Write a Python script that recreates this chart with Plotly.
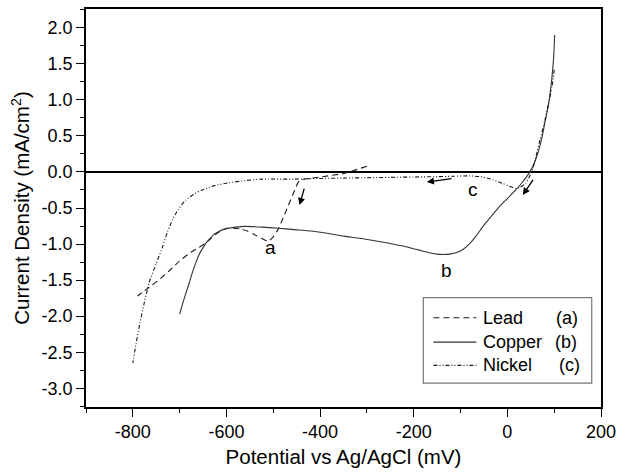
import plotly.graph_objects as go

# ---------------- data ----------------
lead_x = [-300, -349, -400, -444, -454, -463, -472, -481, -490, -500, -511, -525, -540, -555, -570, -585, -600, -620, -645, -675, -701, -722, -743, -765, -790]
lead_y = [0.08, -0.02, -0.07, -0.12, -0.25, -0.39, -0.53, -0.67, -0.80, -0.90, -0.96, -0.92, -0.87, -0.82, -0.79, -0.78, -0.78, -0.85, -0.99, -1.11, -1.24, -1.37, -1.49, -1.60, -1.72]

copper_x = [101, 99, 95, 88, 80, 74, 66, 57, 46, 30, 18, 0, -17, -35, -52, -67, -80, -95, -110, -123, -137, -151, -180, -208, -245, -278, -315, -349, -385, -419, -455, -490, -525, -560, -580, -595, -607, -617, -627, -635, -643, -650, -658, -665, -673, -680, -690, -700]
copper_y = [1.90, 1.60, 1.30, 0.94, 0.68, 0.48, 0.28, 0.115, -0.02, -0.16, -0.25, -0.37, -0.48, -0.62, -0.755, -0.89, -0.99, -1.075, -1.12, -1.14, -1.145, -1.14, -1.10, -1.05, -1.00, -0.96, -0.92, -0.89, -0.85, -0.82, -0.80, -0.78, -0.765, -0.755, -0.765, -0.78, -0.80, -0.83, -0.87, -0.92, -0.98, -1.05, -1.14, -1.25, -1.40, -1.55, -1.75, -1.97]

nickel_x = [100, 98, 95, 88, 80, 70, 59, 53, 46, 39, 28, 18, 5, -10, -30, -52, -80, -116, -150, -200, -250, -300, -350, -400, -454, -525, -560, -595, -625, -652, -670, -687, -702, -715, -726, -736, -750, -765, -775, -785, -793, -800]
nickel_y = [1.42, 1.30, 1.17, 0.95, 0.71, 0.45, 0.16, 0.02, -0.08, -0.16, -0.21, -0.23, -0.20, -0.16, -0.11, -0.07, -0.055, -0.06, -0.065, -0.07, -0.075, -0.08, -0.085, -0.09, -0.10, -0.10, -0.12, -0.15, -0.19, -0.25, -0.31, -0.39, -0.51, -0.66, -0.83, -1.03, -1.27, -1.53, -1.80, -2.10, -2.38, -2.65]

series_names = ["Lead", "Copper", "Nickel"]
series_tags = ["(a)", "(b)", "(c)"]
dashes = ["6px,4px", "solid", "4px,2px,1px,2px,1px,2px"]
colors = ["#1a1a1a", "#333333", "#1a1a1a"]

x_ticks = [-800, -600, -400, -200, 0, 200]
y_ticks = [2.0, 1.5, 1.0, 0.5, 0.0, -0.5, -1.0, -1.5, -2.0, -2.5, -3.0]

peak_labels = ["a", "b", "c"]
peak_x = [-507, -130, -74]
peak_y = [-1.05, -1.37, -0.25]

# arrows: (tail_x, tail_y, head_x, head_y)
arrows = [(-433, -0.21, -444, -0.46), (-116, -0.09, -172, -0.14), (57, -0.09, 33, -0.32)]

FONT = "Liberation Sans, Arial, sans-serif"

fig = go.Figure()
all_x = [lead_x, copper_x, nickel_x]
all_y = [lead_y, copper_y, nickel_y]
for i in range(3):
    fig.add_trace(go.Scatter(
        x=all_x[i], y=all_y[i], mode="lines", name=series_names[i],
        line=dict(color=colors[i], width=1.1, dash=dashes[i], shape="spline", smoothing=0.6),
        showlegend=False,
    ))

for lab, lx, ly in zip(peak_labels, peak_x, peak_y):
    fig.add_annotation(x=lx, y=ly, text=lab, showarrow=False,
                       font=dict(family=FONT, size=19, color="black"))

for tx, ty, hx, hy in arrows:
    fig.add_annotation(x=hx, y=hy, ax=tx, ay=ty, xref="x", yref="y", axref="x", ayref="y",
                       text="", showarrow=True, arrowhead=2, arrowsize=1.1, arrowwidth=1.3,
                       arrowcolor="black")

# legend box (drawn by hand to match the original layout)
fig.add_shape(type="rect", xref="paper", yref="paper", x0=0.655, x1=0.982, y0=0.060, y1=0.275,
              line=dict(color="#777777", width=1.2), fillcolor="white")
row_y = [0.2244, 0.163, 0.1047]
tag_x = [0.908, 0.906, 0.914]
for i in range(3):
    fig.add_shape(type="line", xref="paper", yref="paper", x0=0.6746, x1=0.758,
                  y0=row_y[i], y1=row_y[i],
                  line=dict(color=colors[i], width=1.1, dash=dashes[i]))
    fig.add_annotation(xref="paper", yref="paper", x=0.767, y=row_y[i], text=series_names[i],
                       showarrow=False, xanchor="left", yanchor="middle",
                       font=dict(family=FONT, size=18, color="black"))
    fig.add_annotation(xref="paper", yref="paper", x=tag_x[i], y=row_y[i], text=series_tags[i],
                       showarrow=False, xanchor="left", yanchor="middle",
                       font=dict(family=FONT, size=18, color="black"))

fig.update_layout(
    width=623, height=472,
    margin=dict(l=86, r=17, t=7, b=64),
    paper_bgcolor="white", plot_bgcolor="white",
    font=dict(family=FONT, size=18, color="black"),
)
fig.update_xaxes(
    range=[-900, 200], tickvals=x_ticks, ticktext=[str(v) for v in x_ticks],
    ticks="outside", ticklen=8, tickwidth=1.3, tickcolor="black",
    minor=dict(dtick=100, tick0=0, ticks="outside", ticklen=4, tickwidth=1.3, tickcolor="black"),
    showline=True, linecolor="black", linewidth=1.6, mirror=True,
    showgrid=False, zeroline=False,
    title=dict(text="Potential vs Ag/AgCl (mV)", font=dict(family=FONT, size=20.5), standoff=8),
    tickfont=dict(family=FONT, size=18),
)
fig.update_yaxes(
    range=[-3.26, 2.26], tickvals=y_ticks, ticktext=["%.1f" % v for v in y_ticks],
    ticks="outside", ticklen=8, tickwidth=1.3, tickcolor="black",
    minor=dict(dtick=0.25, tick0=0, ticks="outside", ticklen=4, tickwidth=1.3, tickcolor="black"),
    showline=True, linecolor="black", linewidth=1.6, mirror=True,
    showgrid=False, zeroline=True, zerolinecolor="black", zerolinewidth=1.6,
    title=dict(text="Current Density (mA/cm<sup>2</sup>)", font=dict(family=FONT, size=20.5), standoff=6),
    tickfont=dict(family=FONT, size=18),
)

fig.write_html("out.html")
